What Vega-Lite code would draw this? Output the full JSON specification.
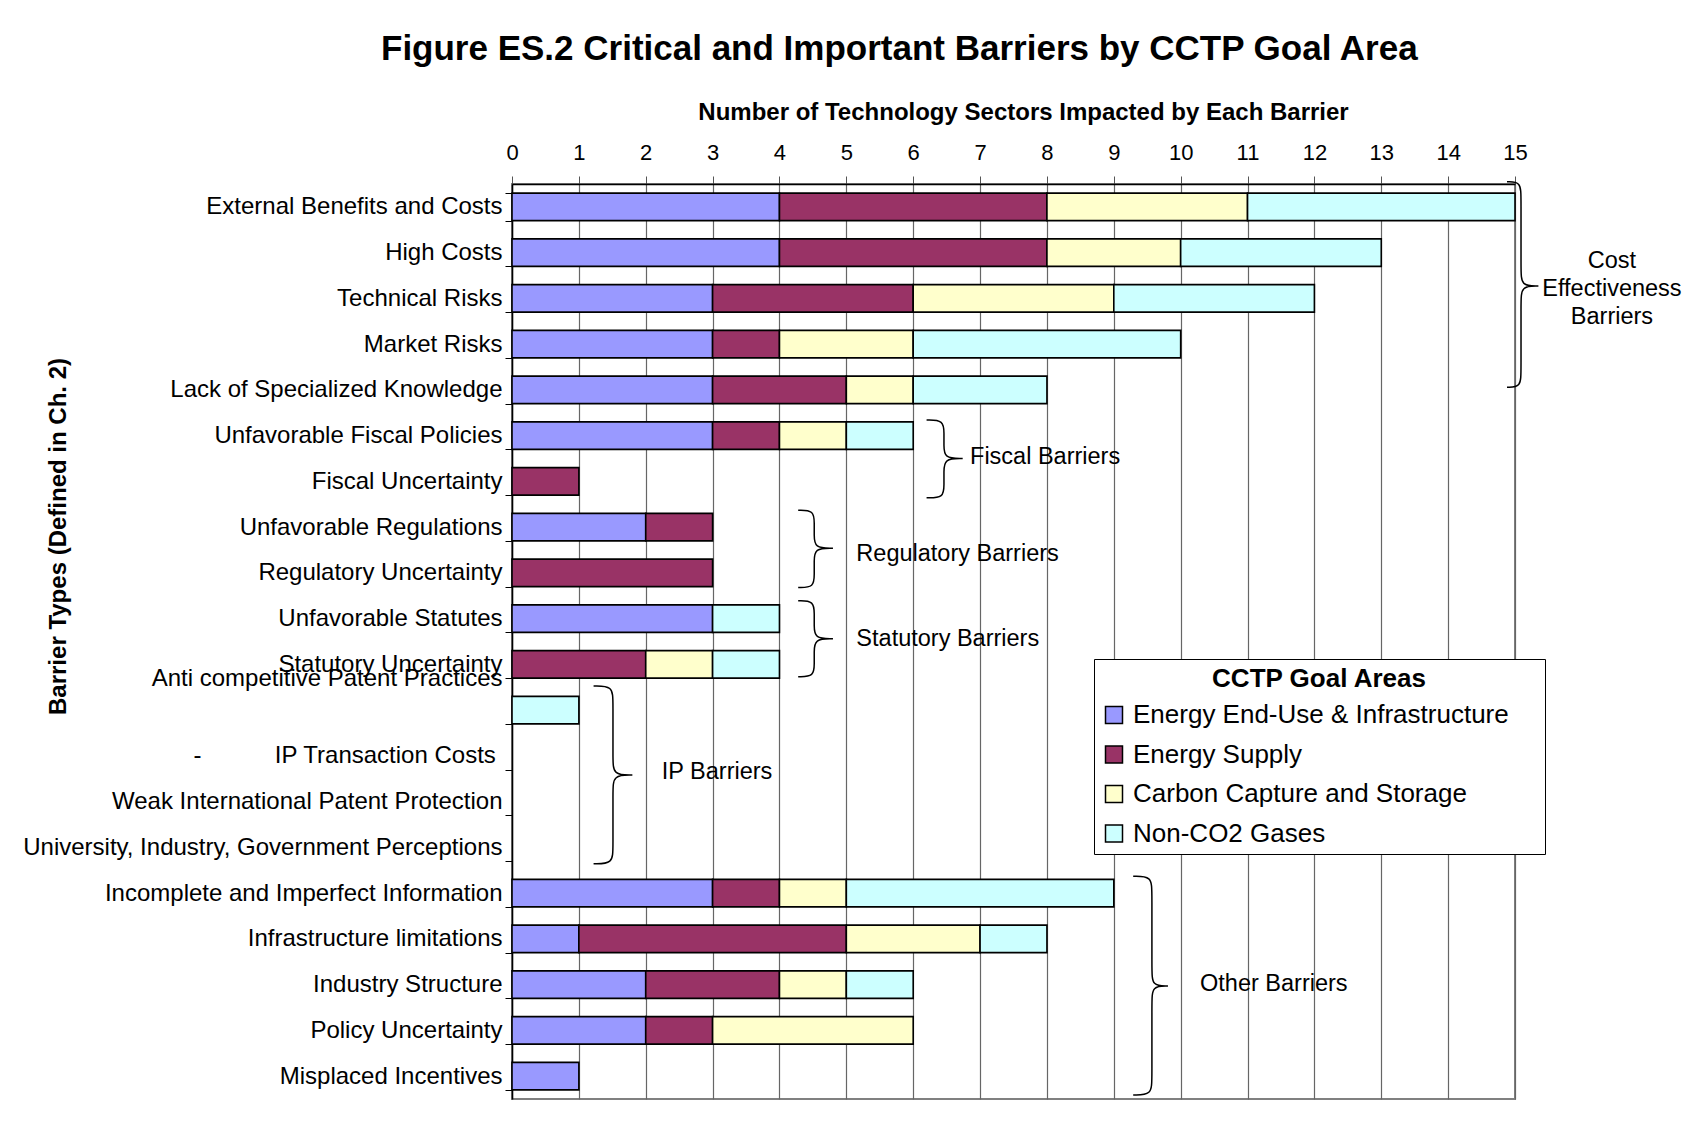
{
  "$schema": "https://vega.github.io/schema/vega-lite/v6.json",
  "autosize": {"type": "none"},
  "width": 1003,
  "height": 915,
  "padding": {"left": 512, "top": 184, "right": 179, "bottom": 32},
  "background": "white",
  "config": {
    "font": "Liberation Sans",
    "view": {"stroke": "#808080", "strokeWidth": 2}
  },
  "title": {
    "text": "Figure ES.2 Critical and Important Barriers by CCTP Goal Area",
    "anchor": "start",
    "frame": "group",
    "dx": -131,
    "offset": 33,
    "fontSize": 35,
    "fontWeight": "bold",
    "font": "Liberation Sans",
    "color": "black"
  },
  "datasets": {
    "bars": [
      {"barrier": "External Benefits and Costs", "area": "Energy End-Use & Infrastructure", "k": 1, "count": 4},
      {"barrier": "External Benefits and Costs", "area": "Energy Supply", "k": 2, "count": 4},
      {"barrier": "External Benefits and Costs", "area": "Carbon Capture and Storage", "k": 3, "count": 3},
      {"barrier": "External Benefits and Costs", "area": "Non-CO2 Gases", "k": 4, "count": 4},
      {"barrier": "High Costs", "area": "Energy End-Use & Infrastructure", "k": 1, "count": 4},
      {"barrier": "High Costs", "area": "Energy Supply", "k": 2, "count": 4},
      {"barrier": "High Costs", "area": "Carbon Capture and Storage", "k": 3, "count": 2},
      {"barrier": "High Costs", "area": "Non-CO2 Gases", "k": 4, "count": 3},
      {"barrier": "Technical Risks", "area": "Energy End-Use & Infrastructure", "k": 1, "count": 3},
      {"barrier": "Technical Risks", "area": "Energy Supply", "k": 2, "count": 3},
      {"barrier": "Technical Risks", "area": "Carbon Capture and Storage", "k": 3, "count": 3},
      {"barrier": "Technical Risks", "area": "Non-CO2 Gases", "k": 4, "count": 3},
      {"barrier": "Market Risks", "area": "Energy End-Use & Infrastructure", "k": 1, "count": 3},
      {"barrier": "Market Risks", "area": "Energy Supply", "k": 2, "count": 1},
      {"barrier": "Market Risks", "area": "Carbon Capture and Storage", "k": 3, "count": 2},
      {"barrier": "Market Risks", "area": "Non-CO2 Gases", "k": 4, "count": 4},
      {"barrier": "Lack of Specialized Knowledge", "area": "Energy End-Use & Infrastructure", "k": 1, "count": 3},
      {"barrier": "Lack of Specialized Knowledge", "area": "Energy Supply", "k": 2, "count": 2},
      {"barrier": "Lack of Specialized Knowledge", "area": "Carbon Capture and Storage", "k": 3, "count": 1},
      {"barrier": "Lack of Specialized Knowledge", "area": "Non-CO2 Gases", "k": 4, "count": 2},
      {"barrier": "Unfavorable Fiscal Policies", "area": "Energy End-Use & Infrastructure", "k": 1, "count": 3},
      {"barrier": "Unfavorable Fiscal Policies", "area": "Energy Supply", "k": 2, "count": 1},
      {"barrier": "Unfavorable Fiscal Policies", "area": "Carbon Capture and Storage", "k": 3, "count": 1},
      {"barrier": "Unfavorable Fiscal Policies", "area": "Non-CO2 Gases", "k": 4, "count": 1},
      {"barrier": "Fiscal Uncertainty", "area": "Energy Supply", "k": 2, "count": 1},
      {"barrier": "Unfavorable Regulations", "area": "Energy End-Use & Infrastructure", "k": 1, "count": 2},
      {"barrier": "Unfavorable Regulations", "area": "Energy Supply", "k": 2, "count": 1},
      {"barrier": "Regulatory Uncertainty", "area": "Energy Supply", "k": 2, "count": 3},
      {"barrier": "Unfavorable Statutes", "area": "Energy End-Use & Infrastructure", "k": 1, "count": 3},
      {"barrier": "Unfavorable Statutes", "area": "Non-CO2 Gases", "k": 4, "count": 1},
      {"barrier": "Statutory Uncertainty", "area": "Energy Supply", "k": 2, "count": 2},
      {"barrier": "Statutory Uncertainty", "area": "Carbon Capture and Storage", "k": 3, "count": 1},
      {"barrier": "Statutory Uncertainty", "area": "Non-CO2 Gases", "k": 4, "count": 1},
      {"barrier": "Anti competitive Patent Practices", "area": "Non-CO2 Gases", "k": 4, "count": 1},
      {"barrier": "Incomplete and Imperfect Information", "area": "Energy End-Use & Infrastructure", "k": 1, "count": 3},
      {"barrier": "Incomplete and Imperfect Information", "area": "Energy Supply", "k": 2, "count": 1},
      {"barrier": "Incomplete and Imperfect Information", "area": "Carbon Capture and Storage", "k": 3, "count": 1},
      {"barrier": "Incomplete and Imperfect Information", "area": "Non-CO2 Gases", "k": 4, "count": 4},
      {"barrier": "Infrastructure limitations", "area": "Energy End-Use & Infrastructure", "k": 1, "count": 1},
      {"barrier": "Infrastructure limitations", "area": "Energy Supply", "k": 2, "count": 4},
      {"barrier": "Infrastructure limitations", "area": "Carbon Capture and Storage", "k": 3, "count": 2},
      {"barrier": "Infrastructure limitations", "area": "Non-CO2 Gases", "k": 4, "count": 1},
      {"barrier": "Industry Structure", "area": "Energy End-Use & Infrastructure", "k": 1, "count": 2},
      {"barrier": "Industry Structure", "area": "Energy Supply", "k": 2, "count": 2},
      {"barrier": "Industry Structure", "area": "Carbon Capture and Storage", "k": 3, "count": 1},
      {"barrier": "Industry Structure", "area": "Non-CO2 Gases", "k": 4, "count": 1},
      {"barrier": "Policy Uncertainty", "area": "Energy End-Use & Infrastructure", "k": 1, "count": 2},
      {"barrier": "Policy Uncertainty", "area": "Energy Supply", "k": 2, "count": 1},
      {"barrier": "Policy Uncertainty", "area": "Carbon Capture and Storage", "k": 3, "count": 3},
      {"barrier": "Misplaced Incentives", "area": "Energy End-Use & Infrastructure", "k": 1, "count": 1}
    ],
    "braces": [
      {"g": "cost", "i": 1, "x": 14.88, "y": -0.05},
      {"g": "cost", "i": 2, "x": 15.09, "y": -0.05},
      {"g": "cost", "i": 3, "x": 15.09, "y": 0.30},
      {"g": "cost", "i": 4, "x": 15.09, "y": 1.88},
      {"g": "cost", "i": 5, "x": 15.09, "y": 2.23},
      {"g": "cost", "i": 6, "x": 15.35, "y": 2.23},
      {"g": "cost", "i": 7, "x": 15.35, "y": 2.23},
      {"g": "cost", "i": 8, "x": 15.35, "y": 2.23},
      {"g": "cost", "i": 9, "x": 15.09, "y": 2.23},
      {"g": "cost", "i": 10, "x": 15.09, "y": 2.58},
      {"g": "cost", "i": 11, "x": 15.09, "y": 4.09},
      {"g": "cost", "i": 12, "x": 15.09, "y": 4.44},
      {"g": "cost", "i": 13, "x": 14.88, "y": 4.44},
      {"g": "fiscal", "i": 1, "x": 6.20, "y": 5.16},
      {"g": "fiscal", "i": 2, "x": 6.46, "y": 5.16},
      {"g": "fiscal", "i": 3, "x": 6.46, "y": 5.46},
      {"g": "fiscal", "i": 4, "x": 6.46, "y": 5.70},
      {"g": "fiscal", "i": 5, "x": 6.46, "y": 6.00},
      {"g": "fiscal", "i": 6, "x": 6.74, "y": 6.00},
      {"g": "fiscal", "i": 7, "x": 6.74, "y": 6.00},
      {"g": "fiscal", "i": 8, "x": 6.74, "y": 6.00},
      {"g": "fiscal", "i": 9, "x": 6.46, "y": 6.00},
      {"g": "fiscal", "i": 10, "x": 6.46, "y": 6.30},
      {"g": "fiscal", "i": 11, "x": 6.46, "y": 6.56},
      {"g": "fiscal", "i": 12, "x": 6.46, "y": 6.86},
      {"g": "fiscal", "i": 13, "x": 6.20, "y": 6.86},
      {"g": "reg", "i": 1, "x": 4.28, "y": 7.13},
      {"g": "reg", "i": 2, "x": 4.52, "y": 7.13},
      {"g": "reg", "i": 3, "x": 4.52, "y": 7.43},
      {"g": "reg", "i": 4, "x": 4.52, "y": 7.66},
      {"g": "reg", "i": 5, "x": 4.52, "y": 7.96},
      {"g": "reg", "i": 6, "x": 4.80, "y": 7.96},
      {"g": "reg", "i": 7, "x": 4.80, "y": 7.96},
      {"g": "reg", "i": 8, "x": 4.80, "y": 7.96},
      {"g": "reg", "i": 9, "x": 4.52, "y": 7.96},
      {"g": "reg", "i": 10, "x": 4.52, "y": 8.26},
      {"g": "reg", "i": 11, "x": 4.52, "y": 8.52},
      {"g": "reg", "i": 12, "x": 4.52, "y": 8.82},
      {"g": "reg", "i": 13, "x": 4.28, "y": 8.82},
      {"g": "stat", "i": 1, "x": 4.28, "y": 9.11},
      {"g": "stat", "i": 2, "x": 4.52, "y": 9.11},
      {"g": "stat", "i": 3, "x": 4.52, "y": 9.41},
      {"g": "stat", "i": 4, "x": 4.52, "y": 9.64},
      {"g": "stat", "i": 5, "x": 4.52, "y": 9.94},
      {"g": "stat", "i": 6, "x": 4.80, "y": 9.94},
      {"g": "stat", "i": 7, "x": 4.80, "y": 9.94},
      {"g": "stat", "i": 8, "x": 4.80, "y": 9.94},
      {"g": "stat", "i": 9, "x": 4.52, "y": 9.94},
      {"g": "stat", "i": 10, "x": 4.52, "y": 10.24},
      {"g": "stat", "i": 11, "x": 4.52, "y": 10.47},
      {"g": "stat", "i": 12, "x": 4.52, "y": 10.77},
      {"g": "stat", "i": 13, "x": 4.28, "y": 10.77},
      {"g": "ip", "i": 1, "x": 1.22, "y": 10.97},
      {"g": "ip", "i": 2, "x": 1.51, "y": 10.97},
      {"g": "ip", "i": 3, "x": 1.51, "y": 11.32},
      {"g": "ip", "i": 4, "x": 1.51, "y": 12.57},
      {"g": "ip", "i": 5, "x": 1.51, "y": 12.92},
      {"g": "ip", "i": 6, "x": 1.80, "y": 12.92},
      {"g": "ip", "i": 7, "x": 1.80, "y": 12.92},
      {"g": "ip", "i": 8, "x": 1.80, "y": 12.92},
      {"g": "ip", "i": 9, "x": 1.51, "y": 12.92},
      {"g": "ip", "i": 10, "x": 1.51, "y": 13.27},
      {"g": "ip", "i": 11, "x": 1.51, "y": 14.51},
      {"g": "ip", "i": 12, "x": 1.51, "y": 14.86},
      {"g": "ip", "i": 13, "x": 1.22, "y": 14.86},
      {"g": "other", "i": 1, "x": 9.29, "y": 15.13},
      {"g": "other", "i": 2, "x": 9.57, "y": 15.13},
      {"g": "other", "i": 3, "x": 9.57, "y": 15.48},
      {"g": "other", "i": 4, "x": 9.57, "y": 17.18},
      {"g": "other", "i": 5, "x": 9.57, "y": 17.53},
      {"g": "other", "i": 6, "x": 9.81, "y": 17.53},
      {"g": "other", "i": 7, "x": 9.81, "y": 17.53},
      {"g": "other", "i": 8, "x": 9.81, "y": 17.53},
      {"g": "other", "i": 9, "x": 9.57, "y": 17.53},
      {"g": "other", "i": 10, "x": 9.57, "y": 17.88},
      {"g": "other", "i": 11, "x": 9.57, "y": 19.56},
      {"g": "other", "i": 12, "x": 9.57, "y": 19.91},
      {"g": "other", "i": 13, "x": 9.29, "y": 19.91}
    ],
    "notes": [
      {"label": "Fiscal Barriers", "x": 6.85, "y": 5.97},
      {"label": "Regulatory Barriers", "x": 5.15, "y": 8.09},
      {"label": "Statutory Barriers", "x": 5.15, "y": 9.95},
      {"label": "IP Barriers", "x": 2.24, "y": 12.85},
      {"label": "Other Barriers", "x": 10.29, "y": 17.49}
    ],
    "groupnote": [
      {"label": "Cost\nEffectiveness\nBarriers", "x": 16.45, "y": 1.68}
    ]
  },
  "layer": [
    {
      "data": {"name": "bars"},
      "mark": {"type": "bar", "stroke": "black", "strokeWidth": 1.6},
      "encoding": {
        "y": {
          "field": "barrier",
          "type": "nominal",
          "sort": null,
          "scale": {
            "domain": [
              "External Benefits and Costs",
              "High Costs",
              "Technical Risks",
              "Market Risks",
              "Lack of Specialized Knowledge",
              "Unfavorable Fiscal Policies",
              "Fiscal Uncertainty",
              "Unfavorable Regulations",
              "Regulatory Uncertainty",
              "Unfavorable Statutes",
              "Statutory Uncertainty",
              "Anti competitive Patent Practices",
              "IP Transaction Costs",
              "Weak International Patent Protection",
              "University, Industry, Government Perceptions",
              "Incomplete and Imperfect Information",
              "Infrastructure limitations",
              "Industry Structure",
              "Policy Uncertainty",
              "Misplaced Incentives"
            ],
            "paddingInner": 0.4,
            "paddingOuter": 0.2
          },
          "axis": {
            "title": "Barrier Types (Defined in Ch. 2)",
            "titleFont": "Liberation Sans",
            "titleFontSize": 24,
            "titleFontWeight": "bold",
            "titleColor": "black",
            "titleAngle": -90,
            "titleX": -447,
            "titleY": 352,
            "titleAlign": "center",
            "titleBaseline": "alphabetic",
            "labelFont": "Liberation Sans",
            "labelFontSize": 24,
            "labelColor": "black",
            "labelLimit": 1000,
            "labelPadding": 3,
            "labelExpr": "datum.value === 'IP Transaction Costs' ? '-\u00a0\u00a0\u00a0\u00a0\u00a0\u00a0\u00a0\u00a0\u00a0\u00a0\u00a0IP Transaction Costs\u00a0\u200b' : datum.label",
            "labelOffset": {"condition": {"test": "datum.value === 'Anti competitive Patent Practices'", "value": -32}, "value": 0},
            "tickBand": "extent",
            "tickSize": 7,
            "tickColor": "black",
            "domainColor": "black",
            "domainWidth": 1.5,
            "grid": false
          }
        },
        "x": {
          "field": "count",
          "type": "quantitative",
          "stack": "zero",
          "scale": {"domain": [0, 15], "nice": false},
          "axis": {
            "orient": "top",
            "values": [0, 1, 2, 3, 4, 5, 6, 7, 8, 9, 10, 11, 12, 13, 14, 15],
            "format": "d",
            "labelFlush": false,
            "labelOverlap": false,
            "title": "Number of Technology Sectors Impacted by Each Barrier",
            "titleFont": "Liberation Sans",
            "titleFontSize": 24,
            "titleFontWeight": "bold",
            "titleColor": "black",
            "titleX": 511,
            "titleY": -65,
            "titleAlign": "center",
            "titleBaseline": "alphabetic",
            "labelFont": "Liberation Sans",
            "labelFontSize": 22,
            "labelColor": "black",
            "labelPadding": 12,
            "tickSize": 8,
            "tickColor": "#555555",
            "domainColor": "black",
            "domainWidth": 1.5,
            "grid": true,
            "gridColor": "#666666",
            "gridWidth": 1.2
          }
        },
        "order": {"field": "k", "type": "quantitative"},
        "fill": {
          "field": "area",
          "type": "nominal",
          "scale": {
            "domain": ["Energy End-Use & Infrastructure", "Energy Supply", "Carbon Capture and Storage", "Non-CO2 Gases"],
            "range": ["#9999FF", "#993366", "#FFFFCC", "#CCFFFF"]
          },
          "legend": {
            "orient": "none",
            "legendX": 582,
            "legendY": 475,
            "direction": "vertical",
            "title": "CCTP Goal Areas",
            "titleFont": "Liberation Sans",
            "titleFontSize": 26,
            "titleFontWeight": "bold",
            "titleColor": "black",
            "titleAnchor": "middle",
            "titleLimit": 1000,
            "titlePadding": 10,
            "labelFont": "Liberation Sans",
            "labelFontSize": 26,
            "labelColor": "black",
            "labelLimit": 1000,
            "labelOffset": 6,
            "labelExpr": "datum.label + '\u00a0\u00a0\u00a0\u00a0\u200b'",
            "symbolType": "square",
            "symbolSize": 289,
            "symbolStrokeColor": "black",
            "symbolStrokeWidth": 1.5,
            "rowPadding": 13.5,
            "padding": 7,
            "strokeColor": "black",
            "fillColor": "white"
          }
        }
      }
    },
    {
      "data": {"name": "braces"},
      "mark": {"type": "line", "interpolate": "basis", "stroke": "black", "strokeWidth": 1.5},
      "encoding": {
        "x": {"field": "x", "type": "quantitative"},
        "y": {"field": "y", "type": "quantitative", "scale": {"domain": [0, 20], "reverse": true, "nice": false, "zero": false}, "axis": null},
        "order": {"field": "i", "type": "quantitative"},
        "detail": {"field": "g", "type": "nominal"}
      }
    },
    {
      "data": {"name": "notes"},
      "mark": {"type": "text", "align": "left", "baseline": "middle", "font": "Liberation Sans", "fontSize": 23.5, "color": "black"},
      "encoding": {
        "x": {"field": "x", "type": "quantitative"},
        "y": {"field": "y", "type": "quantitative", "scale": {"domain": [0, 20], "reverse": true, "nice": false, "zero": false}, "axis": null},
        "text": {"field": "label", "type": "nominal"}
      }
    },
    {
      "data": {"name": "groupnote"},
      "mark": {"type": "text", "align": "center", "baseline": "middle", "lineBreak": "\n", "lineHeight": 28, "font": "Liberation Sans", "fontSize": 23.5, "color": "black"},
      "encoding": {
        "x": {"field": "x", "type": "quantitative"},
        "y": {"field": "y", "type": "quantitative", "scale": {"domain": [0, 20], "reverse": true, "nice": false, "zero": false}, "axis": null},
        "text": {"field": "label", "type": "nominal"}
      }
    }
  ],
  "resolve": {"scale": {"y": "independent"}}
}
